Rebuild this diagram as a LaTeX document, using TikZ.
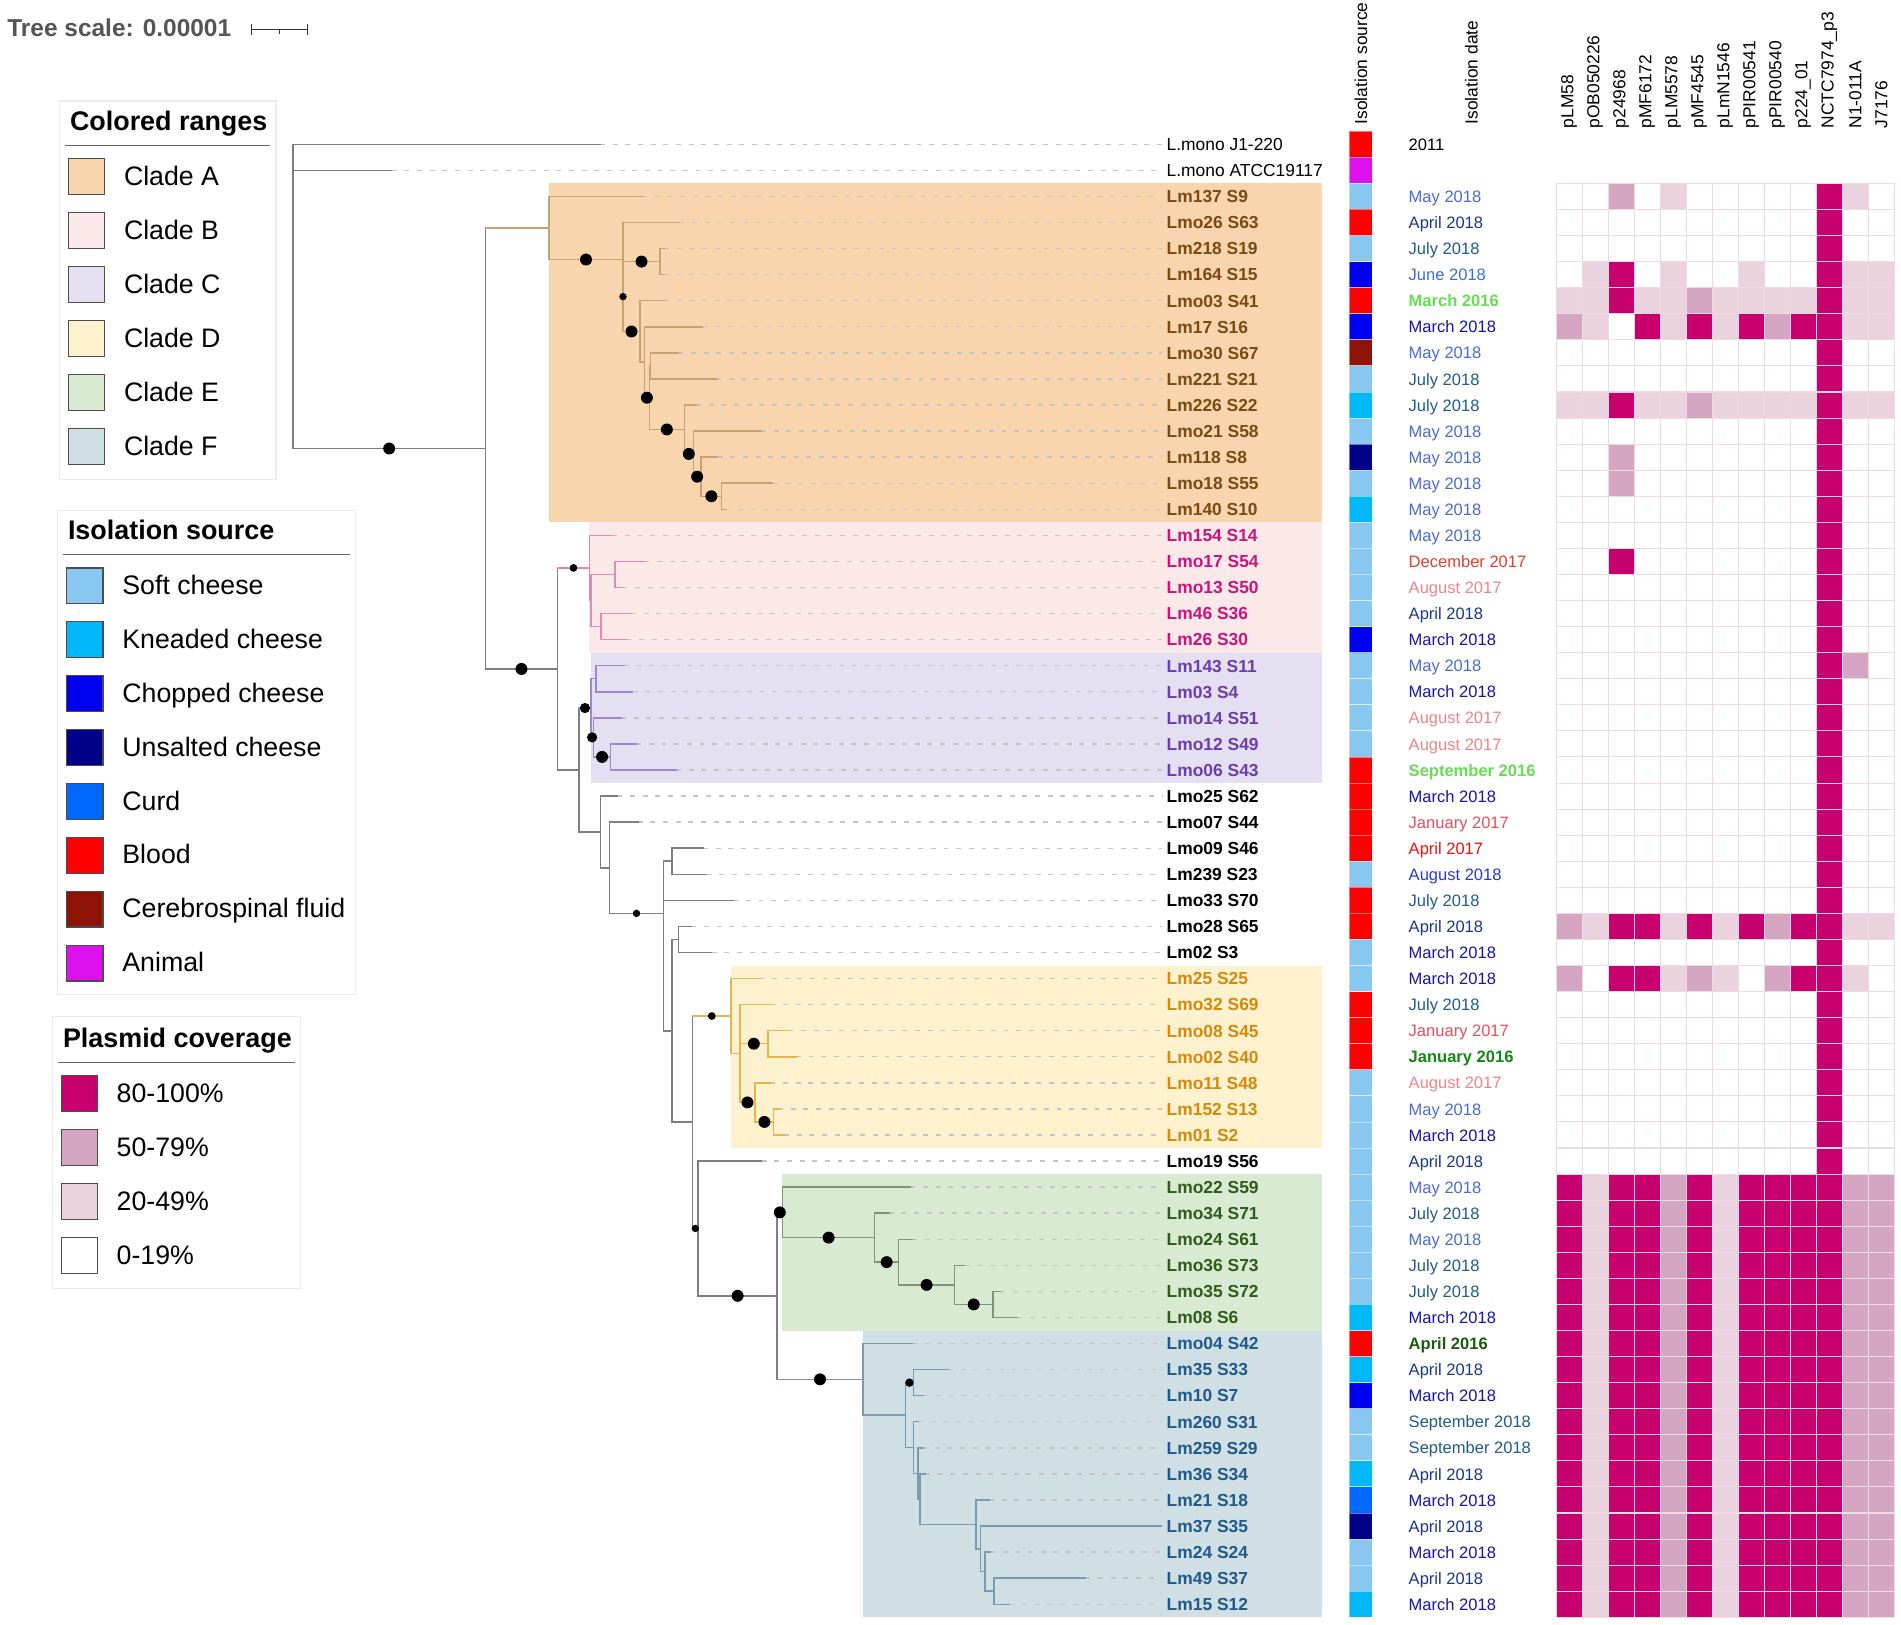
\documentclass[tikz,border=0pt]{standalone}
\usepackage{fontspec}
\setmainfont{Liberation Sans}
\usetikzlibrary{calc}
% colours
\definecolor{cladeA}{HTML}{F9D5AE}
\definecolor{cladeB}{HTML}{FBE8E8}
\definecolor{cladeC}{HTML}{E4E0F1}
\definecolor{cladeD}{HTML}{FEF1CE}
\definecolor{cladeE}{HTML}{D9EAD3}
\definecolor{cladeF}{HTML}{D0DFE3}
\definecolor{trG}{HTML}{7F7F7F}
\definecolor{trA}{HTML}{C9A274}
\definecolor{trB}{HTML}{E389B8}
\definecolor{trC}{HTML}{9C88D0}
\definecolor{trD}{HTML}{E6B54C}
\definecolor{trE}{HTML}{7E9476}
\definecolor{trF}{HTML}{7C9AAE}
\definecolor{leadC}{HTML}{C4C4C4}
\definecolor{labA}{HTML}{7B4A12}
\definecolor{labB}{HTML}{C8157E}
\definecolor{labC}{HTML}{6B3FAA}
\definecolor{labD}{HTML}{D28A0F}
\definecolor{labE}{HTML}{2F5B1B}
\definecolor{labF}{HTML}{1F5A8A}
\definecolor{dtMay}{HTML}{4A6BD6}
\definecolor{dtJun}{HTML}{3D6FD6}
\definecolor{dtApr}{HTML}{17378A}
\definecolor{dtJul}{HTML}{1D5D8C}
\definecolor{dtSep}{HTML}{1F5D8A}
\definecolor{dtMar}{HTML}{1515A8}
\definecolor{dtAugE}{HTML}{2A3BCC}
\definecolor{dtDec}{HTML}{E0402A}
\definecolor{dtAugS}{HTML}{F08585}
\definecolor{dtJanS}{HTML}{E64F5E}
\definecolor{dtAprS}{HTML}{E8140F}
\definecolor{dtLG}{HTML}{66DD55}
\definecolor{dtDG}{HTML}{138A13}
\definecolor{dtDGb}{HTML}{1B5A10}
\definecolor{sSo}{HTML}{88C8F0}
\definecolor{sKn}{HTML}{00B8F8}
\definecolor{sCh}{HTML}{0000F0}
\definecolor{sUn}{HTML}{000088}
\definecolor{sCu}{HTML}{0068FF}
\definecolor{sBl}{HTML}{FF0000}
\definecolor{sCs}{HTML}{8E1306}
\definecolor{sAn}{HTML}{DD11EE}
\definecolor{hm0}{HTML}{FFFFFF}
\definecolor{hm1}{HTML}{EBD2DF}
\definecolor{hm2}{HTML}{D5A6C1}
\definecolor{hm3}{HTML}{C8006E}
\definecolor{hmG}{HTML}{EFD9E5}
\definecolor{legB}{HTML}{EBEBEB}
\definecolor{legL}{HTML}{666666}
\definecolor{swB}{HTML}{4D4D4D}
\definecolor{scaleC}{HTML}{555555}

\newcommand\RY[1]{144.3+(#1-1)*26.07}
\newcommand\TBr[3]{\draw[#1] (#2 |- #3) -- (#3);}
\newcommand\TVr[4]{\draw[#1] (#2 |- #3) -- (#2 |- #4);}
\newcommand\TDot[3]{\fill ($(#2 |- #3)!.5!(#3)$) circle[radius=#1];}
\newcommand\HMcell[3]{\filldraw[hmgrid, fill=hm#3] ({1556+(#2-1)*26.02},{\RY{#1}-13.035}) rectangle ++(26.02,26.07);}

\tikzset{
  brG/.style={draw=trG, line width=0.42pt, line cap=rect},
  brA/.style={draw=trA, line width=0.42pt, line cap=rect},
  brB/.style={draw=trB, line width=0.42pt, line cap=rect},
  brC/.style={draw=trC, line width=0.42pt, line cap=rect},
  brD/.style={draw=trD, line width=0.42pt, line cap=rect},
  brE/.style={draw=trE, line width=0.42pt, line cap=rect},
  brF/.style={draw=trF, line width=0.42pt, line cap=rect},
  leader/.style={draw=leadC, line width=0.4pt, dash pattern=on 1.4pt off 2.2pt, shorten >=1.1pt},
  lbbase/.style={inner sep=0pt, font=\fontsize{4.95}{6}\selectfont\bfseries},
  lbN/.style={inner sep=0pt, font=\fontsize{4.95}{6}\selectfont, text=black},
  lbK/.style={lbbase, text=black},
  lbA/.style={lbbase, text=labA},
  lbB/.style={lbbase, text=labB},
  lbC/.style={lbbase, text=labC},
  lbD/.style={lbbase, text=labD},
  lbE/.style={lbbase, text=labE},
  lbF/.style={lbbase, text=labF},
  dbase/.style={inner sep=0pt, font=\fontsize{4.7}{6}\selectfont},
  dbold/.style={inner sep=0pt, font=\fontsize{4.7}{6}\selectfont\bfseries},
  dK/.style={dbase, text=black},
  dMay/.style={dbase, text=dtMay},
  dJun/.style={dbase, text=dtJun},
  dApr/.style={dbase, text=dtApr},
  dJul/.style={dbase, text=dtJul},
  dSep/.style={dbase, text=dtSep},
  dMar/.style={dbase, text=dtMar},
  dAugE/.style={dbase, text=dtAugE},
  dDec/.style={dbase, text=dtDec},
  dAugS/.style={dbase, text=dtAugS},
  dJanS/.style={dbase, text=dtJanS},
  dAprS/.style={dbase, text=dtAprS},
  dLG/.style={dbold, text=dtLG},
  dDG/.style={dbold, text=dtDG},
  dDGb/.style={dbold, text=dtDGb},
  hdr/.style={inner sep=0pt, font=\fontsize{4.95}{6}\selectfont, text=black},
  hmgrid/.style={draw=hmG, line width=0.3pt},
  srccell/.style={draw=white, draw opacity=0.45, line width=0.25pt},
  legbox/.style={draw=legB, line width=0.3pt, fill=white},
  legtitle/.style={inner sep=0pt, font=\fontsize{7.65}{9}\selectfont\bfseries, text=black},
  legtext/.style={inner sep=0pt, font=\fontsize{7.6}{9}\selectfont, text=black},
  swatch/.style={draw=swB, line width=0.35pt},
  legline/.style={draw=legL, line width=0.35pt},
}

\begin{document}
\begin{tikzpicture}[x=0.01cm,y=-0.01cm]
\useasboundingbox (0,0) rectangle (1901,1624);
\fill[white] (0,0) rectangle (1901,1624);

% ---------- clade backgrounds ----------
\fill[cladeA] (549.2,183.4) rectangle (1322,522.3);
\fill[cladeB] (589.2,522.3) rectangle (1322,652.7);
\fill[cladeC] (590.8,652.7) rectangle (1322,783.0);
\fill[cladeD] (730.5,965.5) rectangle (1322,1148.0);
\fill[cladeE] (782,1174.1) rectangle (1322,1330.5);
\fill[cladeF] (863,1330.5) rectangle (1322,1617.3);

% ---------- tree scale ----------
\node[inner sep=0pt, anchor=base west, font=\fontsize{6.95}{8}\selectfont\bfseries, text=scaleC] (tscale) at (6.7,36) {Tree scale: 0.00001};
\draw[draw=black!80, line width=0.4pt] (251.3,29.3) -- (307.3,29.3);
\draw[draw=black!80, line width=0.4pt] (251.3,24) -- (251.3,34.5);
\draw[draw=black!80, line width=0.4pt] (307.3,24) -- (307.3,34.5);
\draw[draw=black!80, line width=0.4pt] (279.3,29.3) -- (279.3,33.5);

% ---------- legend: colored ranges ----------
\draw[legbox] (59.3,101) rectangle (276,479.3);
\node[legtitle, anchor=base west] (lgCR) at (69.3,130.7) {Colored ranges};
\draw[legline] (65.3,145.7) -- (270,145.7);
\foreach \k/\c/\t in {0/cladeA/Clade A,1/cladeB/Clade B,2/cladeC/Clade C,3/cladeD/Clade D,4/cladeE/Clade E,5/cladeF/Clade F}{
  \filldraw[swatch, fill=\c] (68.3,{158.7+54*\k}) rectangle (104.7,{194.3+54*\k});
  \node[legtext, anchor=base west] (lgCRt\k) at (123.3,{185+54*\k}) {\t};
}

% ---------- legend: isolation source ----------
\draw[legbox] (57.7,510.2) rectangle (355.3,994.9);
\node[legtitle, anchor=base west] (lgIS) at (67.3,539.8) {Isolation source};
\draw[legline] (63.3,554.6) -- (349.7,554.6);
\foreach \k/\c/\t in {0/sSo/Soft cheese,1/sKn/Kneaded cheese,2/sCh/Chopped cheese,3/sUn/Unsalted cheese,4/sCu/Curd,5/sBl/Blood,6/sCs/Cerebrospinal fluid,7/sAn/Animal}{
  \filldraw[swatch, fill=\c] (66.7,{567.9+53.9*\k}) rectangle (103,{603.6+53.9*\k});
  \node[legtext, anchor=base west] (lgISt\k) at (121.7,{594.4+53.9*\k}) {\t};
}

% ---------- legend: plasmid coverage ----------
\draw[legbox] (52.3,1016.8) rectangle (300.3,1288.3);
\node[legtitle, anchor=base west] (lgPC) at (62.3,1047.4) {Plasmid coverage};
\draw[legline] (58.3,1062.8) -- (294.7,1062.8);
\foreach \k/\c/\t in {0/hm3/80-100\%,1/hm2/50-79\%,2/hm1/20-49\%,3/hm0/0-19\%}{
  \filldraw[swatch, fill=\c] (61.3,{1075.5+54.1*\k}) rectangle (97.7,{1111.2+54.1*\k});
  \node[legtext, anchor=base west] (lgPCt\k) at (116,{1102+54.1*\k}) {\t};
}

% ---------- tree: tips ----------
\foreach \i/\x in {1/600,2/391.7,3/642,4/679.3,5/664,6/664,7/664,8/702.7,9/678.3,10/716,
  11/696,12/761,13/717.7,14/772.7,15/725,16/612.2,17/644.4,18/622.4,19/631.1,20/626.5,
  21/624,22/632.7,23/621,24/636.2,25/676,26/617.3,27/637.8,28/703,29/706.6,30/733.2,
  31/691.3,32/711.7,33/759.2,34/770.4,35/788.3,36/795.9,37/770.4,38/778,39/784,40/761.6,
  41/910.3,42/888.8,43/912.5,44/964.7,45/1000.4,46/1017,47/912,48/948.2,49/923.2,50/918,
  51/922,52/925,53/989,54/1161,55/990,56/1085.3,57/1009.4}{
  \coordinate (t\i) at (\x,{\RY{\i}});
}
% ---------- tree: internal nodes ----------
\coordinate (nR) at (293,296.4);
\coordinate (nX1) at (485.3,448.5);
\coordinate (nA1) at (549,228.0);
\coordinate (nA2) at (623,259.55);
\coordinate (nA2b) at (623,296.6);
\coordinate (nA3) at (660,261.6);
\coordinate (nA4) at (640,331.5);
\coordinate (nA5) at (644.3,362.2);
\coordinate (nA6) at (649.5,397.7);
\coordinate (nA6a) at (650.5,365.9);
\coordinate (nA7) at (684.3,429.45);
\coordinate (nA8) at (693.3,453.9);
\coordinate (nA9) at (701,476.7);
\coordinate (nA10) at (721.7,496.25);
\coordinate (nX2) at (557.7,668.95);
\coordinate (nB1) at (589.3,567.9);
\coordinate (nB1b) at (590.8,600.5);
\coordinate (nB2) at (614.8,574.45);
\coordinate (nB3) at (601,626.6);
\coordinate (nX3) at (579.1,770.0);
\coordinate (nC1) at (590.8,708.05);
\coordinate (nC2) at (595.9,678.7);
\coordinate (nC3) at (593.4,737.4);
\coordinate (nC4) at (610.7,756.9);
\coordinate (nX4) at (600.5,831.9);
\coordinate (nX5) at (609.7,867.8);
\coordinate (nX6) at (663.3,913.4);
\coordinate (nX6b) at (663.3,965.6);
\coordinate (nX7) at (672,861.2);
\coordinate (nZ) at (672,1030.8);
\coordinate (nX8) at (678.6,939.4);
\coordinate (nY1) at (692.4,1122.2);
\coordinate (nD1) at (731.1,1016.0);
\coordinate (nD1b) at (739.8,1053.5);
\coordinate (nD2) at (767.9,1043.7);
\coordinate (nD3) at (755.1,1102.4);
\coordinate (nD4) at (773.7,1121.9);
\coordinate (nY2) at (698.2,1228.4);
\coordinate (nY3) at (777,1295.8);
\coordinate (nE1) at (782.6,1212.35);
\coordinate (nE2) at (874.6,1237.6);
\coordinate (nE3) at (898.7,1262.1);
\coordinate (nE4) at (954.5,1284.9);
\coordinate (nE5) at (992.9,1304.4);
\coordinate (nF1) at (863,1379.3);
\coordinate (nF2) at (905.4,1415.1);
\coordinate (nF3) at (913.4,1382.6);
\coordinate (nF4) at (913.4,1447.6);
\coordinate (nF5) at (917.9,1473.5);
\coordinate (nF6) at (920,1499.1);
\coordinate (nF7) at (975.9,1524.4);
\coordinate (nF8) at (980.4,1548.8);
\coordinate (nF9) at (984.8,1571.6);
\coordinate (nF10) at (993.8,1591.2);

% ---------- leaders ----------
\foreach \i in {1,...,53,55,56,57}{
  \draw[leader] (t\i) -- (1166,{\RY{\i}});
}

% ---------- tree: verticals ----------
\TVr{brG}{nR}{t1}{nX1}
\TVr{brG}{nX1}{nA1}{nX2}
\TVr{brA}{nA1}{t3}{nA2}
\TVr{brA}{nA2}{t4}{nA2b}
\TVr{brA}{nA2b}{nA3}{nA4}
\TVr{brA}{nA3}{t5}{t6}
\TVr{brA}{nA4}{t7}{nA5}
\TVr{brA}{nA5}{t8}{nA6}
\TVr{brA}{nA6}{nA6a}{nA7}
\TVr{brA}{nA6a}{t9}{t10}
\TVr{brA}{nA7}{t11}{nA8}
\TVr{brA}{nA8}{t12}{nA9}
\TVr{brA}{nA9}{t13}{nA10}
\TVr{brA}{nA10}{t14}{t15}
\TVr{brG}{nX2}{nB1}{nX3}
\TVr{brB}{nB1}{t16}{nB1b}
\TVr{brB}{nB1b}{nB2}{nB3}
\TVr{brB}{nB2}{t17}{t18}
\TVr{brB}{nB3}{t19}{t20}
\TVr{brG}{nX3}{nC1}{nX4}
\TVr{brC}{nC1}{nC2}{nC3}
\TVr{brC}{nC2}{t21}{t22}
\TVr{brC}{nC3}{t23}{nC4}
\TVr{brC}{nC4}{t24}{t25}
\TVr{brG}{nX4}{t26}{nX5}
\TVr{brG}{nX5}{t27}{nX6}
\TVr{brG}{nX6}{nX7}{nX6b}
\TVr{brG}{nX6b}{t30}{nZ}
\TVr{brG}{nX7}{t28}{t29}
\TVr{brG}{nZ}{nX8}{nY1}
\TVr{brG}{nX8}{t31}{t32}
\TVr{brG}{nY1}{nD1}{nY2}
\TVr{brD}{nD1}{t33}{nD1b}
\TVr{brD}{nD1b}{t34}{nD3}
\TVr{brD}{nD2}{t35}{t36}
\TVr{brD}{nD3}{t37}{nD4}
\TVr{brD}{nD4}{t38}{t39}
\TVr{brG}{nY2}{t40}{nY3}
\TVr{brG}{nY3}{nE1}{nF1}
\TVr{brE}{nE1}{t41}{nE2}
\TVr{brE}{nE2}{t42}{nE3}
\TVr{brE}{nE3}{t43}{nE4}
\TVr{brE}{nE4}{t44}{nE5}
\TVr{brE}{nE5}{t45}{t46}
\TVr{brF}{nF1}{t47}{nF2}
\TVr{brF}{nF2}{nF3}{nF4}
\TVr{brF}{nF3}{t48}{t49}
\TVr{brF}{nF4}{t50}{nF5}
\TVr{brF}{nF5}{t51}{nF6}
\TVr{brF}{nF6}{t52}{nF7}
\TVr{brF}{nF7}{t53}{nF8}
\TVr{brF}{nF8}{t54}{nF9}
\TVr{brF}{nF9}{t55}{nF10}
\TVr{brF}{nF10}{t56}{t57}

% ---------- tree: horizontals ----------
\TBr{brG}{nR}{t1} \TBr{brG}{nR}{t2} \TBr{brG}{nR}{nX1}
\TBr{brA}{nX1}{nA1} \TBr{brG}{nX1}{nX2}
\TBr{brA}{nA1}{t3} \TBr{brA}{nA1}{nA2}
\TBr{brA}{nA2}{t4}
\TBr{brA}{nA2b}{nA3} \TBr{brA}{nA2b}{nA4}
\TBr{brA}{nA3}{t5} \TBr{brA}{nA3}{t6}
\TBr{brA}{nA4}{t7} \TBr{brA}{nA4}{nA5}
\TBr{brA}{nA5}{t8} \TBr{brA}{nA5}{nA6}
\TBr{brA}{nA6}{nA6a} \TBr{brA}{nA6}{nA7}
\TBr{brA}{nA6a}{t9} \TBr{brA}{nA6a}{t10}
\TBr{brA}{nA7}{t11} \TBr{brA}{nA7}{nA8}
\TBr{brA}{nA8}{t12} \TBr{brA}{nA8}{nA9}
\TBr{brA}{nA9}{t13} \TBr{brA}{nA9}{nA10}
\TBr{brA}{nA10}{t14} \TBr{brA}{nA10}{t15}
\TBr{brB}{nX2}{nB1} \TBr{brG}{nX2}{nX3}
\TBr{brB}{nB1}{t16} \TBr{brB}{nB1}{nB1b}
\TBr{brB}{nB1b}{nB2} \TBr{brB}{nB1b}{nB3}
\TBr{brB}{nB2}{t17} \TBr{brB}{nB2}{t18}
\TBr{brB}{nB3}{t19} \TBr{brB}{nB3}{t20}
\TBr{brC}{nX3}{nC1} \TBr{brG}{nX3}{nX4}
\TBr{brC}{nC1}{nC2} \TBr{brC}{nC1}{nC3}
\TBr{brC}{nC2}{t21} \TBr{brC}{nC2}{t22}
\TBr{brC}{nC3}{t23} \TBr{brC}{nC3}{nC4}
\TBr{brC}{nC4}{t24} \TBr{brC}{nC4}{t25}
\TBr{brG}{nX4}{t26} \TBr{brG}{nX4}{nX5}
\TBr{brG}{nX5}{t27} \TBr{brG}{nX5}{nX6}
\TBr{brG}{nX6}{nX7} \TBr{brG}{nX6}{nX6b}
\TBr{brG}{nX6b}{t30} \TBr{brG}{nX6b}{nZ}
\TBr{brG}{nX7}{t28} \TBr{brG}{nX7}{t29}
\TBr{brG}{nZ}{nX8} \TBr{brG}{nZ}{nY1}
\TBr{brG}{nX8}{t31} \TBr{brG}{nX8}{t32}
\TBr{brD}{nY1}{nD1} \TBr{brG}{nY1}{nY2}
\TBr{brD}{nD1}{t33} \TBr{brD}{nD1}{nD1b}
\TBr{brD}{nD1b}{t34} \TBr{brD}{nD1b}{nD2} \TBr{brD}{nD1b}{nD3}
\TBr{brD}{nD2}{t35} \TBr{brD}{nD2}{t36}
\TBr{brD}{nD3}{t37} \TBr{brD}{nD3}{nD4}
\TBr{brD}{nD4}{t38} \TBr{brD}{nD4}{t39}
\TBr{brG}{nY2}{t40} \TBr{brG}{nY2}{nY3}
\TBr{brE}{nY3}{nE1} \TBr{brF}{nY3}{nF1}
\TBr{brE}{nE1}{t41} \TBr{brE}{nE1}{nE2}
\TBr{brE}{nE2}{t42} \TBr{brE}{nE2}{nE3}
\TBr{brE}{nE3}{t43} \TBr{brE}{nE3}{nE4}
\TBr{brE}{nE4}{t44} \TBr{brE}{nE4}{nE5}
\TBr{brE}{nE5}{t45} \TBr{brE}{nE5}{t46}
\TBr{brF}{nF1}{t47} \TBr{brF}{nF1}{nF2}
\TBr{brF}{nF2}{nF3} \TBr{brF}{nF2}{nF4}
\TBr{brF}{nF3}{t48} \TBr{brF}{nF3}{t49}
\TBr{brF}{nF4}{t50} \TBr{brF}{nF4}{nF5}
\TBr{brF}{nF5}{t51} \TBr{brF}{nF5}{nF6}
\TBr{brF}{nF6}{t52} \TBr{brF}{nF6}{nF7}
\TBr{brF}{nF7}{t53} \TBr{brF}{nF7}{nF8}
\TBr{brF}{nF8}{t54} \TBr{brF}{nF8}{nF9}
\TBr{brF}{nF9}{t55} \TBr{brF}{nF9}{nF10}
\TBr{brF}{nF10}{t56} \TBr{brF}{nF10}{t57}

% ---------- support dots ----------
\TDot{1.7pt}{nR}{nX1}
\TDot{1.7pt}{nA1}{nA2}
\fill (nA2b) circle[radius=1.05pt];
\TDot{1.7pt}{nA2b}{nA3}
\TDot{1.7pt}{nA2b}{nA4}
\TDot{1.7pt}{nA5}{nA6}
\TDot{1.7pt}{nA6}{nA7}
\TDot{1.7pt}{nA7}{nA8}
\TDot{1.7pt}{nA8}{nA9}
\TDot{1.7pt}{nA9}{nA10}
\TDot{1.7pt}{nX1}{nX2}
\TDot{1.1pt}{nX2}{nB1}
\TDot{1.45pt}{nX3}{nC1}
\TDot{1.45pt}{nC1}{nC3}
\TDot{1.7pt}{nC3}{nC4}
\TDot{1.05pt}{nX5}{nX6}
\TDot{1.1pt}{nY1}{nD1}
\TDot{1.7pt}{nD1b}{nD2}
\TDot{1.7pt}{nD1b}{nD3}
\TDot{1.7pt}{nD3}{nD4}
\TDot{1.05pt}{nY1}{nY2}
\TDot{1.7pt}{nY2}{nY3}
\TDot{1.7pt}{nY3}{nE1}
\TDot{1.7pt}{nE1}{nE2}
\TDot{1.7pt}{nE2}{nE3}
\TDot{1.7pt}{nE3}{nE4}
\TDot{1.7pt}{nE4}{nE5}
\TDot{1.7pt}{nY3}{nF1}
\TDot{1.2pt}{nF2}{nF3}

% ---------- leaf labels and dates ----------
\foreach \i/\lab/\ls/\dt/\ds in {
 1/L.mono J1-220/lbN/2011/dK,
 2/L.mono ATCC19117/lbN/{}/dK,
 3/Lm137 S9/lbA/May 2018/dMay,
 4/Lmo26 S63/lbA/April 2018/dApr,
 5/Lm218 S19/lbA/July 2018/dJul,
 6/Lm164 S15/lbA/June 2018/dJun,
 7/Lmo03 S41/lbA/March 2016/dLG,
 8/Lm17 S16/lbA/March 2018/dMar,
 9/Lmo30 S67/lbA/May 2018/dMay,
 10/Lm221 S21/lbA/July 2018/dJul,
 11/Lm226 S22/lbA/July 2018/dJul,
 12/Lmo21 S58/lbA/May 2018/dMay,
 13/Lm118 S8/lbA/May 2018/dMay,
 14/Lmo18 S55/lbA/May 2018/dMay,
 15/Lm140 S10/lbA/May 2018/dMay,
 16/Lm154 S14/lbB/May 2018/dMay,
 17/Lmo17 S54/lbB/December 2017/dDec,
 18/Lmo13 S50/lbB/August 2017/dAugS,
 19/Lm46 S36/lbB/April 2018/dApr,
 20/Lm26 S30/lbB/March 2018/dMar,
 21/Lm143 S11/lbC/May 2018/dMay,
 22/Lm03 S4/lbC/March 2018/dMar,
 23/Lmo14 S51/lbC/August 2017/dAugS,
 24/Lmo12 S49/lbC/August 2017/dAugS,
 25/Lmo06 S43/lbC/September 2016/dLG,
 26/Lmo25 S62/lbK/March 2018/dMar,
 27/Lmo07 S44/lbK/January 2017/dJanS,
 28/Lmo09 S46/lbK/April 2017/dAprS,
 29/Lm239 S23/lbK/August 2018/dAugE,
 30/Lmo33 S70/lbK/July 2018/dJul,
 31/Lmo28 S65/lbK/April 2018/dApr,
 32/Lm02 S3/lbK/March 2018/dMar,
 33/Lm25 S25/lbD/March 2018/dMar,
 34/Lmo32 S69/lbD/July 2018/dJul,
 35/Lmo08 S45/lbD/January 2017/dJanS,
 36/Lmo02 S40/lbD/January 2016/dDG,
 37/Lmo11 S48/lbD/August 2017/dAugS,
 38/Lm152 S13/lbD/May 2018/dMay,
 39/Lm01 S2/lbD/March 2018/dMar,
 40/Lmo19 S56/lbK/April 2018/dApr,
 41/Lmo22 S59/lbE/May 2018/dMay,
 42/Lmo34 S71/lbE/July 2018/dJul,
 43/Lmo24 S61/lbE/May 2018/dMay,
 44/Lmo36 S73/lbE/July 2018/dJul,
 45/Lmo35 S72/lbE/July 2018/dJul,
 46/Lm08 S6/lbE/March 2018/dMar,
 47/Lmo04 S42/lbF/April 2016/dDGb,
 48/Lm35 S33/lbF/April 2018/dApr,
 49/Lm10 S7/lbF/March 2018/dMar,
 50/Lm260 S31/lbF/September 2018/dSep,
 51/Lm259 S29/lbF/September 2018/dSep,
 52/Lm36 S34/lbF/April 2018/dApr,
 53/Lm21 S18/lbF/March 2018/dMar,
 54/Lm37 S35/lbF/April 2018/dApr,
 55/Lm24 S24/lbF/March 2018/dMar,
 56/Lm49 S37/lbF/April 2018/dApr,
 57/Lm15 S12/lbF/March 2018/dMar}{
  \node[\ls, anchor=base west] (lab\i) at (1166,{\RY{\i}+6.3}) {\lab};
  \node[\ds, anchor=base west] (dat\i) at (1408,{\RY{\i}+6.1}) {\dt};
}

% ---------- isolation source strip ----------
\foreach \i/\c in {1/sBl,2/sAn,3/sSo,4/sBl,5/sSo,6/sCh,7/sBl,8/sCh,9/sCs,10/sSo,
  11/sKn,12/sSo,13/sUn,14/sSo,15/sKn,16/sSo,17/sSo,18/sSo,19/sSo,20/sCh,
  21/sSo,22/sSo,23/sSo,24/sSo,25/sBl,26/sBl,27/sBl,28/sBl,29/sSo,30/sBl,
  31/sBl,32/sSo,33/sSo,34/sBl,35/sBl,36/sBl,37/sSo,38/sSo,39/sSo,40/sSo,
  41/sSo,42/sSo,43/sSo,44/sSo,45/sSo,46/sKn,47/sBl,48/sKn,49/sCh,50/sSo,
  51/sSo,52/sKn,53/sCu,54/sUn,55/sSo,56/sSo,57/sKn}{
  \filldraw[srccell, fill=\c] (1349.4,{\RY{\i}-13.035}) rectangle (1372.4,{\RY{\i}+13.035});
}

% ---------- heat map ----------
\foreach \r in {3,...,40}{
  \foreach \v [count=\c] in {0,0,0,0,0,0,0,0,0,0,3,0,0}{\HMcell{\r}{\c}{\v}}
}
\foreach \r in {41,...,57}{
  \foreach \v [count=\c] in {3,1,3,3,2,3,1,3,3,3,3,2,2}{\HMcell{\r}{\c}{\v}}
}
\foreach \r/\vals in {3/{0,0,2,0,1,0,0,0,0,0,3,1,0},
  6/{0,1,3,0,1,0,0,1,0,0,3,1,1},
  7/{1,1,3,1,1,2,1,1,1,1,3,1,1},
  8/{2,1,0,3,1,3,1,3,2,3,3,1,1},
  11/{1,1,3,1,1,2,1,1,1,1,3,1,1},
  13/{0,0,2,0,0,0,0,0,0,0,3,0,0},
  14/{0,0,2,0,0,0,0,0,0,0,3,0,0},
  17/{0,0,3,0,0,0,0,0,0,0,3,0,0},
  21/{0,0,0,0,0,0,0,0,0,0,3,2,0},
  31/{2,1,3,3,1,3,1,3,2,3,3,1,1},
  33/{2,0,3,3,1,2,1,0,2,3,3,1,0}}{
  \foreach \v [count=\c] in \vals {\HMcell{\r}{\c}{\v}}
}

% ---------- column headers ----------
\node[hdr, rotate=90, anchor=west] (hSrc) at (1361,125) {Isolation source};
\node[hdr, rotate=90, anchor=west] (hDate) at (1471.3,125) {Isolation date};
\foreach \p [count=\j] in {pLM58,pOB050226,p24968,pMF6172,pLM5578,pMF4545,pLmN1546,pPIR00541,pPIR00540,p224\_01,NCTC7974\_p3,N1-011A,J7176}{
  \node[hdr, rotate=90, anchor=west] (hp\j) at ({1556+(\j-0.5)*26.02},129) {\p};
}
\end{tikzpicture}
\end{document}
